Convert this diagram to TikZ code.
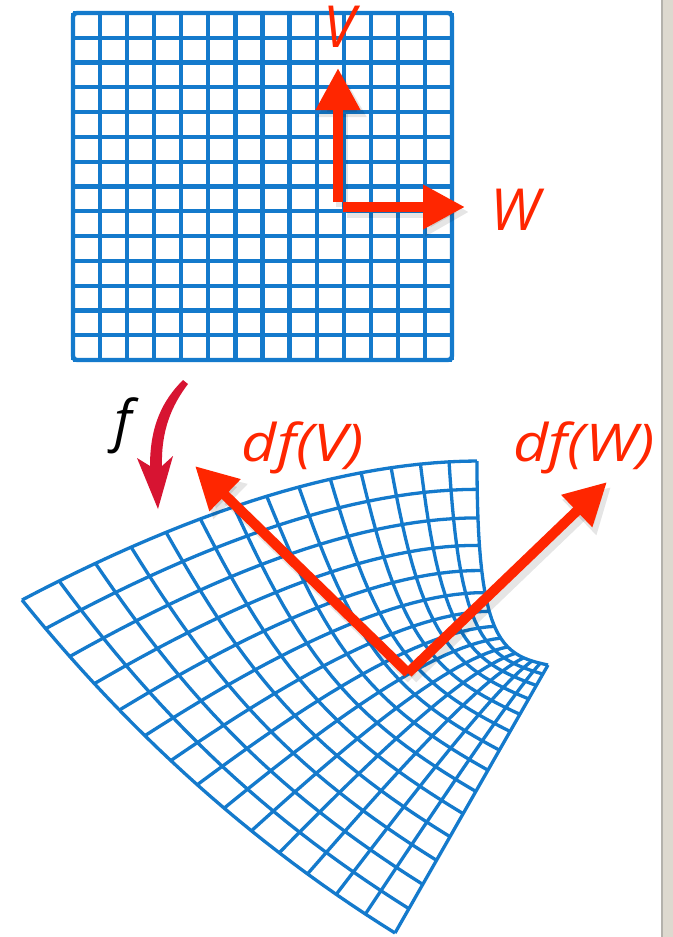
\documentclass[tikz,border=0pt]{standalone}
\usepackage{fontspec}
\usepackage{graphicx}
\newfontfamily\labfont{Open Sans}
\usetikzlibrary{arrows.meta}
\definecolor{gridblue}{RGB}{20,122,204}
\definecolor{vecred}{RGB}{255,38,0}
\definecolor{fred}{RGB}{215,20,50}
\definecolor{panel}{RGB}{221,217,207}
\definecolor{panelline}{RGB}{180,178,172}
\begin{document}
\begin{tikzpicture}[x=0.5pt,y=-0.5pt,
  gridT/.style={draw=gridblue, line width=2.1pt},
  gridB/.style={draw=gridblue, line width=1.65pt, line join=round},
  vec/.style={draw=vecred, line width=5pt, -{Triangle[length=21pt,width=21pt]}},
  vecshadow/.style={draw=black, opacity=0.10, line width=6pt, -{Triangle[length=22pt,width=23pt]}},
  lab/.style={text=vecred, font=\labfont\itshape\fontsize{29}{31}\selectfont, inner sep=0pt},
  labd/.style={text=vecred, font=\labfont\itshape\fontsize{26}{29}\selectfont, inner sep=0pt},
  flab/.style={text=black, font=\labfont\itshape\fontsize{28}{30}\selectfont, inner sep=0pt}]
\useasboundingbox (0,0) rectangle (673,937);
\fill[white] (0,0) rectangle (673,937);
% right panel
\fill[panel] (661,0) rectangle (673,937);
\draw[panelline, line width=1pt] (661.5,0) -- (661.5,937);

% ---- top grid ----
\foreach \k in {0,...,14} {
  \draw[gridT] ({73+\k*379/14},13) -- ({73+\k*379/14},360);
  \draw[gridT] (73,{13+\k*347/14}) -- (452,{13+\k*347/14});
}
\draw[gridT, rounded corners=2pt] (73,13) rectangle (452,360);

% ---- bottom warped grid (Coons patch) ----
\foreach \i in {0,...,28} {
 \foreach \j in {0,...,28} {
  \pgfmathsetmacro\myU{\i/28}
  \pgfmathsetmacro\myV{\j/28}
  \pgfmathsetmacro\myUc{1-\myU}
  \pgfmathsetmacro\myVc{1-\myV}
  \pgfmathsetmacro\myG{\myU*(1.27+\myU*(0.05-0.32*\myU))}
  \pgfmathsetmacro\bX{395+153*\myG}
  \pgfmathsetmacro\bY{933-268*\myG}
  \pgfmathsetmacro\tX{\myUc*\myUc*22+2*\myUc*\myU*284+\myU*\myU*477}
  \pgfmathsetmacro\tY{\myUc*\myUc*600+2*\myUc*\myU*462+\myU*\myU*461}
  \pgfmathsetmacro\lX{\myVc*\myVc*395+2*\myVc*\myV*186+\myV*\myV*22}
  \pgfmathsetmacro\lY{\myVc*\myVc*933+2*\myVc*\myV*803+\myV*\myV*600}
  \pgfmathsetmacro\myH{0.72*\myV+0.28*\myV*\myV*(3-2*\myV)}
  \pgfmathsetmacro\myHc{1-\myH}
  \pgfmathsetmacro\rX{\myHc*\myHc*\myHc*548+3*\myHc*\myHc*\myH*500+3*\myHc*\myH*\myH*477+\myH*\myH*\myH*477}
  \pgfmathsetmacro\rY{\myHc*\myHc*\myHc*665+3*\myHc*\myHc*\myH*655+3*\myHc*\myH*\myH*640+\myH*\myH*\myH*461}
  \pgfmathsetmacro\pX{\myVc*\bX+\myV*\tX+\myUc*\lX+\myU*\rX-(\myUc*\myVc*395+\myU*\myVc*548+\myUc*\myV*22+\myU*\myV*477)}
  \pgfmathsetmacro\pY{\myVc*\bY+\myV*\tY+\myUc*\lY+\myU*\rY-(\myUc*\myVc*933+\myU*\myVc*665+\myUc*\myV*600+\myU*\myV*461)}
  \coordinate (p-\i-\j) at (\pX,\pY);
 }
}
\foreach \j in {0,2,...,28} {
  \draw[gridB] (p-0-\j) \foreach \i in {1,...,28} { -- (p-\i-\j) };
}
\foreach \i in {0,2,...,28} {
  \draw[gridB] (p-\i-0) \foreach \j in {1,...,28} { -- (p-\i-\j) };
}

% ---- map arrow f ----
\fill[fred] (183,380) .. controls (163,400) and (150,425) .. (150,466)
  -- (137,458) -- (158,509) -- (173,456) -- (162,466)
  .. controls (161,430) and (172,405) .. (188,384) -- cycle;
\node[flab, anchor=base] (lf) at (123,440) {f};

% ---- vectors ----
\coordinate (O1v) at (338,202);
\coordinate (V1) at (338,68);
\coordinate (O1w) at (343,207);
\coordinate (W1) at (465,207);
\coordinate (O2) at (408,673);
\coordinate (V2) at (195,466);
\coordinate (W2) at (607,482);

\draw[vecshadow] ([xshift=2pt,yshift=-2.5pt]O1v) -- ([xshift=2pt,yshift=-2.5pt]V1);
\draw[vecshadow] ([xshift=2pt,yshift=-2.5pt]O1w) -- ([xshift=2pt,yshift=-2.5pt]W1);
\draw[vecshadow] ([xshift=2pt,yshift=-2.5pt]O2) -- ([xshift=2pt,yshift=-2.5pt]V2);
\draw[vecshadow] ([xshift=2pt,yshift=-2.5pt]O2) -- ([xshift=2pt,yshift=-2.5pt]W2);

\draw[vec] (O1v) -- (V1);
\draw[vec] (O1w) -- (W1);
\draw[vec] (O2) -- (V2);
\draw[vec] (O2) -- (W2);

% ---- labels ----
\node[lab, anchor=base] (lV) at (339,47) {V};
\node[lab, anchor=base] (lW) at (515,230) {W};
\node[labd, anchor=base] (ldV) at (303,461) {\scalebox{1.17}[1]{df(V)}};
\node[labd, anchor=base] (ldW) at (584,461) {\scalebox{1.17}[1]{df(W)}};
\end{tikzpicture}
\end{document}
